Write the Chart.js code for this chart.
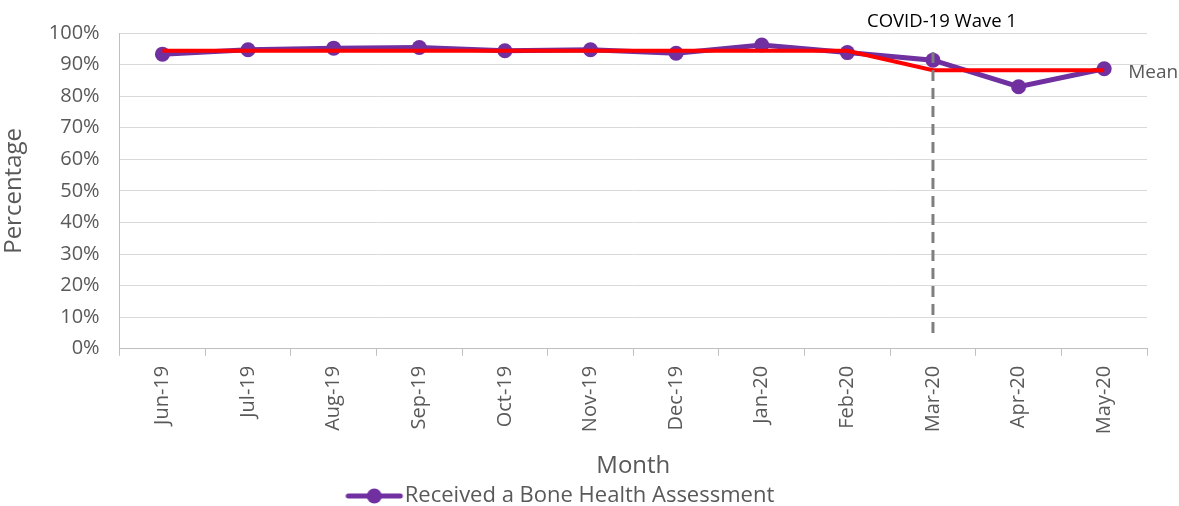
<!DOCTYPE html>
<html>
<head>
<meta charset="utf-8">
<script src="https://cdn.jsdelivr.net/npm/chart.js@4/dist/chart.umd.min.js"></script>
<style>
    html, body { margin: 0; padding: 0; background: #ffffff; }
    #wrap { width: 1179px; height: 506px; }
</style>
</head>
<body>
<div id="wrap"><canvas id="chart" width="1179" height="506"></canvas></div>
<script>
const months = ['Jun-19', 'Jul-19', 'Aug-19', 'Sep-19', 'Oct-19', 'Nov-19', 'Dec-19', 'Jan-20', 'Feb-20', 'Mar-20', 'Apr-20', 'May-20'];
const assessed = [93.3, 94.7, 95.2, 95.4, 94.4, 94.7, 93.6, 96.2, 93.8, 91.4, 83.0, 88.7];
const meanLine = [94.4, 94.4, 94.4, 94.4, 94.4, 94.4, 94.4, 94.4, 94.4, 88.2, 88.2, 88.2];
const waveMonth = 'Mar-20';
const waveRange = [5, 95];
const yTicks = [0, 10, 20, 30, 40, 50, 60, 70, 80, 90, 100];

const FONT = "'Open Sans', 'Liberation Sans', sans-serif";
const GREY_TEXT = '#595959';

// legend marker: line with a dot in the middle, drawn on the left part of the canvas
function legendMarker() {
    const c = document.createElement('canvas');
    c.width = 76;
    c.height = 18;
    const g = c.getContext('2d');
    g.strokeStyle = '#7030A0';
    g.lineWidth = 5;
    g.lineCap = 'round';
    g.beginPath();
    g.moveTo(3, 9);
    g.lineTo(55, 9);
    g.stroke();
    g.fillStyle = '#7030A0';
    g.beginPath();
    g.arc(29, 9, 7.5, 0, Math.PI * 2);
    g.fill();
    return c;
}

const labelsPlugin = {
    id: 'extraLabels',
    afterDraw(chart) {
        const ctx = chart.ctx;
        const x = chart.scales.x;
        const y = chart.scales.y;
        ctx.save();
        ctx.font = '18.5px ' + FONT;
        ctx.fillStyle = '#000000';
        ctx.textAlign = 'center';
        ctx.textBaseline = 'middle';
        ctx.fillText('COVID-19 Wave 1', x.getPixelForValue(months.indexOf(waveMonth)) + 9, 22);

        ctx.font = '19px ' + FONT;
        ctx.fillStyle = GREY_TEXT;
        ctx.textAlign = 'left';
        const last = months.length - 1;
        ctx.fillText('Mean', x.getPixelForValue(last) + 24, y.getPixelForValue(meanLine[last]) + 2);
        ctx.restore();
    }
};

const ctx = document.getElementById('chart').getContext('2d');
new Chart(ctx, {
    type: 'line',
    data: {
        labels: months,
        datasets: [
            {
                label: 'Received a Bone Health Assessment',
                data: assessed,
                borderColor: '#7030A0',
                backgroundColor: '#7030A0',
                borderWidth: 5,
                pointRadius: 7.5,
                pointHoverRadius: 7.5,
                pointBorderWidth: 0,
                tension: 0,
                order: 3
            },
            {
                label: 'Mean',
                data: meanLine,
                borderColor: '#FF0000',
                backgroundColor: '#FF0000',
                borderWidth: 4,
                pointRadius: 0,
                tension: 0,
                order: 2
            },
            {
                label: 'COVID-19 Wave 1',
                data: waveRange.map(v => ({ x: waveMonth, y: v })),
                borderColor: '#7f7f7f',
                borderWidth: 3,
                borderDash: [11, 7],
                pointRadius: 0,
                order: 1
            }
        ]
    },
    options: {
        responsive: false,
        animation: false,
        layout: {
            padding: { top: 33, right: 32, left: 0, bottom: -11 }
        },
        plugins: {
            tooltip: { enabled: false },
            legend: {
                position: 'bottom',
                labels: {
                    font: { family: FONT, size: 22 },
                    color: GREY_TEXT,
                    usePointStyle: true,
                    pointStyleWidth: 21,
                    padding: 4,
                    generateLabels: chart => [{
                        text: chart.data.datasets[0].label,
                        fontColor: GREY_TEXT,
                        pointStyle: legendMarker(),
                        datasetIndex: 0,
                        hidden: false,
                        lineWidth: 0
                    }]
                }
            }
        },
        scales: {
            x: {
                offset: true,
                grid: {
                    offset: true,
                    drawOnChartArea: false,
                    drawTicks: true,
                    tickLength: 7,
                    color: '#bfbfbf'
                },
                border: { display: true, color: '#bfbfbf', width: 1 },
                ticks: {
                    color: GREY_TEXT,
                    font: { family: FONT, size: 20 },
                    maxRotation: 90,
                    minRotation: 90,
                    padding: 10
                },
                title: {
                    display: true,
                    text: 'Month',
                    color: GREY_TEXT,
                    font: { family: FONT, size: 24 },
                    padding: { top: 8, bottom: 0 }
                }
            },
            y: {
                min: 0,
                max: 100,
                afterBuildTicks: axis => { axis.ticks = yTicks.map(v => ({ value: v })); },
                grid: {
                    color: '#d9d9d9',
                    lineWidth: 1,
                    drawTicks: false
                },
                border: { display: true, color: '#bfbfbf', width: 1 },
                ticks: {
                    color: GREY_TEXT,
                    font: { family: FONT, size: 20 },
                    padding: 20,
                    callback: v => v + '%'
                },
                title: {
                    display: true,
                    text: 'Percentage',
                    color: GREY_TEXT,
                    font: { family: FONT, size: 24 },
                    padding: { top: 0, bottom: 0 }
                }
            }
        }
    },
    plugins: [labelsPlugin]
});
</script>
</body>
</html>
